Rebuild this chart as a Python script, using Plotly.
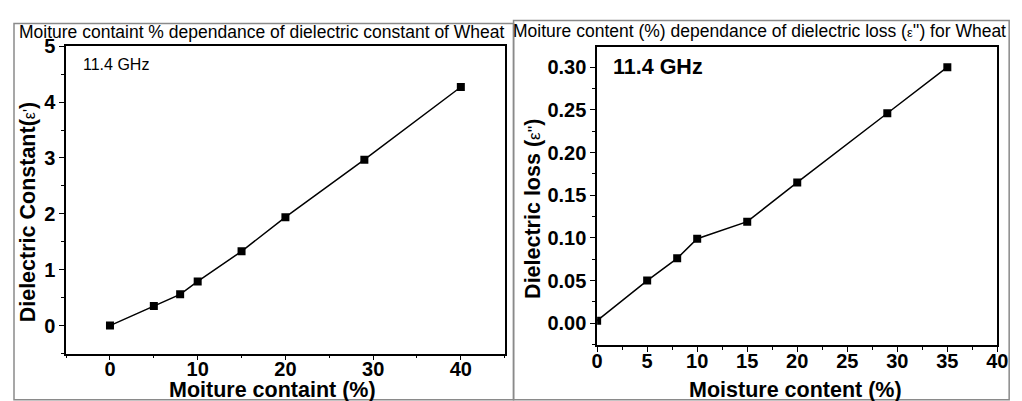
import plotly.graph_objects as go

W, H = 1022, 401
OFFX, OFFY = 8, 8  # page (body margin) offset compensation

# Left panel data: dielectric constant vs moisture
moist_left = [0, 5, 8, 10, 15, 20, 29, 40]
eps_real = [0.0, 0.35, 0.56, 0.79, 1.33, 1.94, 2.97, 4.27]

# Right panel data: dielectric loss vs moisture
moist_right = [0, 5, 8, 10, 15, 20, 29, 35]
eps_loss = [0.003, 0.050, 0.076, 0.099, 0.119, 0.165, 0.246, 0.300]

title_left = "Moiture containt % dependance of dielectric constant of Wheat"
title_right = "Moiture content (%) dependance of dielectric loss (<span style='font-size:13px'>ε</span>'') for Wheat"
xlabel_left = "Moiture containt (%)"
xlabel_right = "Moisture content (%)"
ylabel_left = "Dielectric Constant(<span style='font-weight:normal;font-size:16px'>ε'</span>)"
ylabel_right = "Dielectric loss (<span style='font-weight:normal;font-size:17px'>ε''</span>)"
freq_label = "11.4 GHz"

FONT = "Liberation Sans, Arial, sans-serif"

def px(x):
    return (x - OFFX) / W

def py(y):
    return 1 - (y - OFFY) / H

fig = go.Figure()
fig.add_trace(go.Scatter(x=moist_left, y=eps_real, mode="lines+markers",
                         line=dict(color="black", width=1.5),
                         marker=dict(symbol="square", size=8, color="black"),
                         xaxis="x", yaxis="y", showlegend=False))
fig.add_trace(go.Scatter(x=moist_right, y=eps_loss, mode="lines+markers",
                         line=dict(color="black", width=1.5),
                         marker=dict(symbol="square", size=8, color="black"),
                         xaxis="x2", yaxis="y2", showlegend=False))

tickfont = dict(family=FONT, size=20, color="black", weight="bold")
common = dict(showline=True, linecolor="black", linewidth=1.5, mirror=True,
              ticks="outside", ticklen=5, tickwidth=1.2, tickcolor="black",
              showgrid=False, zeroline=False, tickfont=tickfont)
minor = dict(ticks="outside", ticklen=3, tickwidth=1, tickcolor="black", showgrid=False)

fig.update_layout(
    width=W, height=H,
    margin=dict(l=0, r=0, t=0, b=0),
    paper_bgcolor="white", plot_bgcolor="white",
    xaxis=dict(domain=[px(61), px(507)], range=[-5, 45], dtick=10, tick0=0,
               ticklabelstandoff=-8,
               anchor="y", minor=dict(minor, dtick=5), **common),
    yaxis=dict(domain=[py(352), py(36)], range=[-0.5, 5], dtick=1, tick0=0,
               anchor="x", minor=dict(minor, dtick=0.5), **common),
    xaxis2=dict(domain=[px(601), px(1008)], range=[0, 40], dtick=5, tick0=0,
                ticklabelstandoff=-8,
                anchor="y2", minor=dict(minor, dtick=2.5), **common),
    yaxis2=dict(domain=[py(343), py(37)], range=[-0.0253, 0.3234], dtick=0.05, tick0=0,
                tickformat=".2f", anchor="x2", minor=dict(minor, dtick=0.025), **common),
)

# panel frames
frame = dict(type="rect", xref="paper", yref="paper",
             line=dict(color="#8a8a8a", width=1.5), fillcolor="rgba(0,0,0,0)", layer="below")
fig.add_shape(x0=px(8), x1=px(516), y0=py(399.5), y1=py(12.5), **frame)
fig.add_shape(x0=px(516), x1=px(1020), y0=py(399.5), y1=py(9.5), **frame)

def add_ann(text, x, y, size, bold=False, angle=0, xanchor="center"):
    f = dict(family=FONT, size=size, color="black")
    if bold:
        f["weight"] = "bold"
    fig.add_annotation(text=text, x=px(x), y=py(y), xref="paper", yref="paper",
                       showarrow=False, xanchor=xanchor, yanchor="middle",
                       textangle=angle, font=f)

add_ann(title_left, 260, 21, 17.5)
add_ann(title_right, 766, 20, 17.5)
add_ann(xlabel_left, 271, 389, 21.5, bold=True)
add_ann(xlabel_right, 803, 389, 21.5, bold=True)
add_ann(ylabel_left, 22, 207, 21.5, bold=True, angle=-90)
add_ann(ylabel_right, 535, 203, 21.5, bold=True, angle=-90)
add_ann(freq_label, 76, 55, 16, xanchor="left")
add_ann(freq_label, 615, 57, 21.5, bold=True, xanchor="left")

fig.write_html("out.html")
